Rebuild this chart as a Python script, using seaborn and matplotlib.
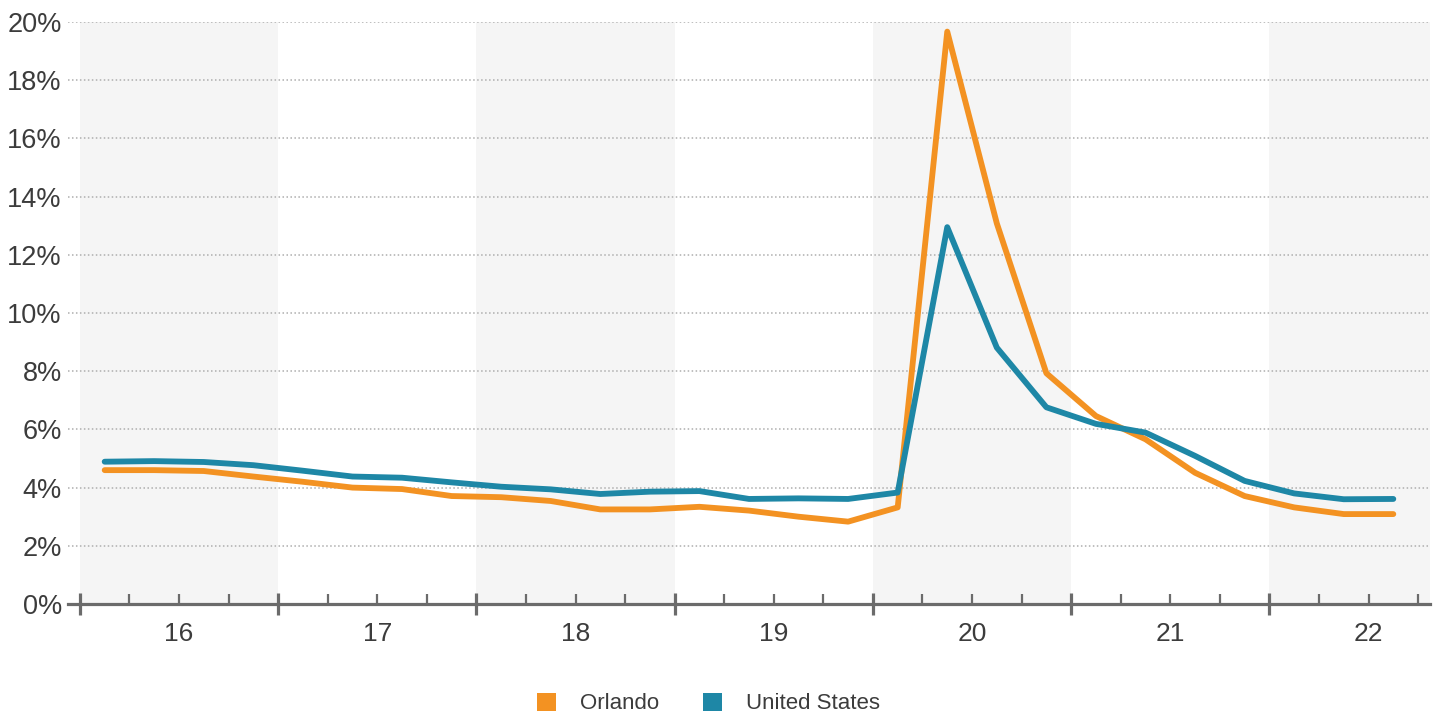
import matplotlib
matplotlib.use("Agg")
import matplotlib.pyplot as plt
import numpy as np
import pandas as pd
import seaborn as sns
from matplotlib.patches import Patch
from matplotlib.ticker import FixedLocator

# Quarterly unemployment rate, %
periods = [
    "2016-Q1", "2016-Q2", "2016-Q3", "2016-Q4",
    "2017-Q1", "2017-Q2", "2017-Q3", "2017-Q4",
    "2018-Q1", "2018-Q2", "2018-Q3", "2018-Q4",
    "2019-Q1", "2019-Q2", "2019-Q3", "2019-Q4",
    "2020-Q1", "2020-Q2", "2020-Q3", "2020-Q4",
    "2021-Q1", "2021-Q2", "2021-Q3", "2021-Q4",
    "2022-Q1", "2022-Q2", "2022-Q3",
]
orlando = [4.60, 4.60, 4.57, 4.38, 4.20, 4.00, 3.95, 3.71,
           3.67, 3.54, 3.25, 3.25, 3.34, 3.21, 3.00, 2.83,
           3.32, 19.67, 13.08, 7.93, 6.46, 5.66, 4.51, 3.71,
           3.32, 3.09, 3.09]
united_states = [4.89, 4.91, 4.88, 4.77, 4.58, 4.38, 4.34, 4.18,
                 4.03, 3.94, 3.78, 3.86, 3.88, 3.61, 3.63, 3.61,
                 3.83, 12.95, 8.81, 6.76, 6.19, 5.89, 5.09, 4.23,
                 3.80, 3.60, 3.61]
series_names = ["Orlando", "United States"]
series_colors = ["#F39222", "#1E87A6"]
years = [2016, 2017, 2018, 2019, 2020, 2021, 2022]
year_labels = ["16", "17", "18", "19", "20", "21", "22"]
y_ticks = [0, 2, 4, 6, 8, 10, 12, 14, 16, 18, 20]

# Place each quarter at the middle of its span on a continuous year axis
def period_to_x(p):
    y, q = p.split("-Q")
    return int(y) + (int(q) - 0.5) / 4

x = [period_to_x(p) for p in periods]
df = pd.concat([
    pd.DataFrame({"x": x, "rate": orlando, "series": series_names[0]}),
    pd.DataFrame({"x": x, "rate": united_states, "series": series_names[1]}),
])

sns.set_theme(style="white")
plt.rcParams["font.family"] = ["Liberation Sans", "DejaVu Sans"]
text_color = "#3C3C3C"

fig = plt.figure(figsize=(14.37, 7.15), dpi=100)
ax = fig.add_axes([68 / 1437, 111 / 715, (1430 - 68) / 1437, (604 - 22) / 715])

x_min, x_max = 2015.94, 2022.81
ax.set_xlim(x_min, x_max)
ax.set_ylim(0, 20)

# Alternating year bands
for i, yr in enumerate(years):
    if i % 2 == 0:
        ax.axvspan(yr, min(yr + 1, x_max), color="#F5F5F5", lw=0, zorder=0)

# Dotted horizontal grid
for v in y_ticks[1:]:
    ax.axhline(v, color="#AEAEAE", lw=1.1, ls=(0, (1, 1.6)), zorder=1)

sns.lineplot(data=df, x="x", y="rate", hue="series", hue_order=series_names,
             palette=series_colors, lw=4.2, ax=ax, legend=False, zorder=3,
             solid_capstyle="round", solid_joinstyle="round")

for s in ["top", "right", "left"]:
    ax.spines[s].set_visible(False)
ax.spines["bottom"].set_color("#6B6B6B")
ax.spines["bottom"].set_linewidth(2.3)
ax.spines["bottom"].set_zorder(4)

# Year boundaries as major ticks, quarter boundaries as minor ticks
ax.xaxis.set_major_locator(FixedLocator(years))
quarter_ticks = [yr + q / 4 for yr in years for q in (1, 2, 3)]
ax.xaxis.set_minor_locator(FixedLocator(quarter_ticks))
ax.tick_params(axis="x", which="major", direction="inout", length=16,
               width=2.3, color="#6B6B6B", labelbottom=False, bottom=True)
ax.tick_params(axis="x", which="minor", direction="in", length=7.5,
               width=1.6, color="#6B6B6B", bottom=True)

ax.set_yticks(y_ticks)
ax.set_yticklabels([f"{v}%" for v in y_ticks])
ax.tick_params(axis="y", length=0, pad=4.5, labelsize=19.5, labelcolor=text_color)
ax.set_xlabel("")
ax.set_ylabel("")

# Year labels centred under each year
sec = ax.secondary_xaxis("bottom")
sec.set_xticks([yr + 0.5 for yr in years])
sec.set_xticklabels(year_labels)
sec.tick_params(axis="x", length=0, pad=13, labelsize=19, labelcolor=text_color)
sec.spines["bottom"].set_visible(False)

handles = [Patch(facecolor=c, edgecolor="none", label=n)
           for n, c in zip(series_names, series_colors)]
fig.legend(handles=handles, loc="center", bbox_to_anchor=(0.493, 0.016),
           ncol=2, frameon=False, fontsize=16, handlelength=0.86,
           handleheight=0.86, handletextpad=1.05, columnspacing=2.0,
           labelcolor=text_color)

fig.savefig("out.png", dpi=100, facecolor="white")
